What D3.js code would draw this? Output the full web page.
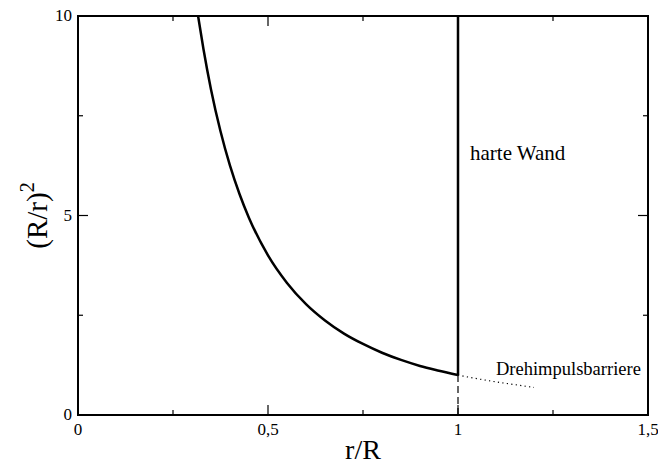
<!DOCTYPE html>
<html>
<head>
<meta charset="utf-8">
<script src="https://cdn.jsdelivr.net/npm/d3@7"></script>
<style>
  body { margin: 0; background: #fff; }
  text { font-family: "Liberation Serif", "Times New Roman", serif; fill: #000; }
</style>
</head>
<body>
<svg id="chart" width="658" height="466"></svg>
<script>
// values
const curveX = [0.316, 0.33, 0.35, 0.375, 0.4, 0.425, 0.45, 0.5, 0.55, 0.6, 0.65, 0.7, 0.75, 0.8, 0.85, 0.9, 0.95, 1.0];
const curveY = [10.0, 9.18, 8.16, 7.11, 6.25, 5.54, 4.94, 4.0, 3.31, 2.78, 2.37, 2.04, 1.78, 1.56, 1.38, 1.23, 1.11, 1.0];
const barrierX = [1.0, 1.05, 1.1, 1.15, 1.2];
const barrierY = [1.0, 0.91, 0.83, 0.76, 0.69];
const wallX = 1.0;
const wallTop = 10;
const wallBottom = 1.0;
const xTicks = [0, 0.5, 1, 1.5];
const xTickLabels = ["0", "0,5", "1", "1,5"];
const xMinor = [0.25, 0.75, 1.25];
const yTicks = [0, 5, 10];
const yTickLabels = ["0", "5", "10"];
const yMinor = [2.5, 7.5];

const svg = d3.select("#chart");
const mLeft = 78, mRight = 648, mTop = 16, mBottom = 415;

const x = d3.scaleLinear().domain([0, 1.5]).range([mLeft, mRight]);
const y = d3.scaleLinear().domain([0, 10]).range([mBottom, mTop]);

const line = d3.line().x(d => x(d[0])).y(d => y(d[1])).curve(d3.curveMonotoneX);

// wall, dashed part below the curve
svg.append("line")
    .attr("x1", x(wallX)).attr("x2", x(wallX))
    .attr("y1", y(0)).attr("y2", y(wallBottom))
    .attr("stroke", "#000").attr("stroke-width", 1.2)
    .attr("stroke-dasharray", "7,4");

svg.append("line")
    .attr("x1", x(wallX)).attr("x2", x(wallX))
    .attr("y1", y(wallBottom)).attr("y2", y(wallTop))
    .attr("stroke", "#000").attr("stroke-width", 2.5);

svg.append("path")
    .datum(curveX.map((v, i) => [v, curveY[i]]))
    .attr("d", line)
    .attr("fill", "none").attr("stroke", "#000").attr("stroke-width", 2.5);

svg.append("path")
    .datum(barrierX.map((v, i) => [v, barrierY[i]]))
    .attr("d", line)
    .attr("fill", "none").attr("stroke", "#000").attr("stroke-width", 1.2)
    .attr("stroke-dasharray", "1.2,3.3");

// frame
svg.append("rect")
    .attr("x", mLeft).attr("y", mTop)
    .attr("width", mRight - mLeft).attr("height", mBottom - mTop)
    .attr("fill", "none").attr("stroke", "#000").attr("stroke-width", 2);

// ticks on all four sides, pointing inwards
function tick(ax, val, len) {
    if (ax === "x") {
        svg.append("line").attr("x1", x(val)).attr("x2", x(val))
            .attr("y1", mBottom).attr("y2", mBottom - len)
            .attr("stroke", "#000").attr("stroke-width", 1.2);
        svg.append("line").attr("x1", x(val)).attr("x2", x(val))
            .attr("y1", mTop).attr("y2", mTop + len)
            .attr("stroke", "#000").attr("stroke-width", 1.2);
    } else {
        svg.append("line").attr("x1", mLeft).attr("x2", mLeft + len)
            .attr("y1", y(val)).attr("y2", y(val))
            .attr("stroke", "#000").attr("stroke-width", 1.2);
        svg.append("line").attr("x1", mRight).attr("x2", mRight - len)
            .attr("y1", y(val)).attr("y2", y(val))
            .attr("stroke", "#000").attr("stroke-width", 1.2);
    }
}
xTicks.slice(1, -1).forEach(v => tick("x", v, 10));
xMinor.forEach(v => tick("x", v, 5));
yTicks.slice(1, -1).forEach(v => tick("y", v, 10));
yMinor.forEach(v => tick("y", v, 5));

svg.selectAll(".xl").data(xTicks).enter().append("text")
    .attr("x", d => x(d)).attr("y", mBottom + 20)
    .attr("text-anchor", "middle").attr("font-size", 17)
    .text((d, i) => xTickLabels[i]);

svg.selectAll(".yl").data(yTicks).enter().append("text")
    .attr("x", mLeft - 6).attr("y", d => y(d) + 5)
    .attr("text-anchor", "end").attr("font-size", 17)
    .text((d, i) => yTickLabels[i]);

svg.append("text")
    .attr("x", (mLeft + mRight) / 2).attr("y", 459)
    .attr("text-anchor", "middle").attr("font-size", 28)
    .text("r/R");

const yt = svg.append("text")
    .attr("transform", "translate(47," + ((mTop + mBottom) / 2) + ") rotate(-90)")
    .attr("text-anchor", "middle").attr("font-size", 29);
yt.append("tspan").text("(R/r)");
yt.append("tspan").attr("dy", -13).attr("font-size", 20).text("2");

svg.append("text")
    .attr("x", 470).attr("y", 160)
    .attr("font-size", 21)
    .text("harte Wand");

svg.append("text")
    .attr("x", 496).attr("y", 375)
    .attr("font-size", 18.5)
    .text("Drehimpulsbarriere");
</script>
</body>
</html>
